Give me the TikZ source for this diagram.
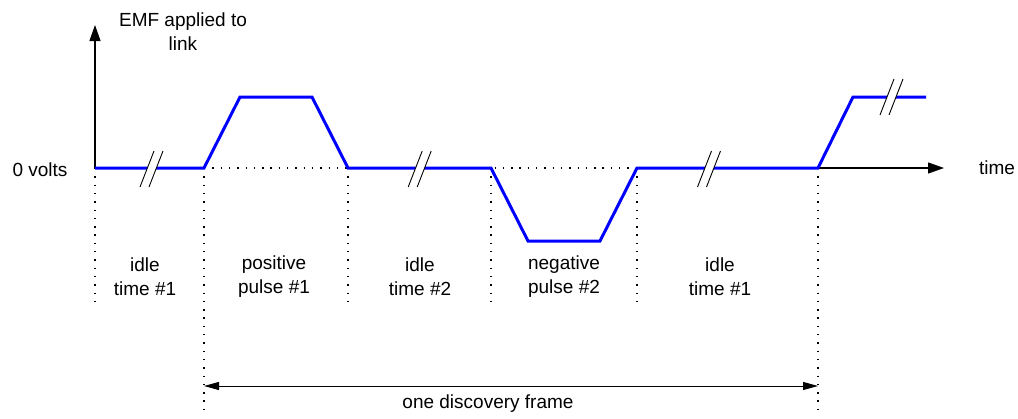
\documentclass[tikz,border=0pt]{standalone}
\usepackage{fontspec}
\setmainfont{Liberation Sans}
\usetikzlibrary{arrows.meta}
\tikzset{
  wave/.style={draw=blue, line width=3pt, line join=miter},
  axis/.style={draw=black, line width=1.2pt, -{Triangle[length=16pt,width=11pt]}},
  dotline/.style={draw=black, line width=1.4pt, dash pattern=on 1.4pt off 6.9pt},
  lbl/.style={font=\fontsize{19}{24}\selectfont, align=center, inner sep=0pt},
  span/.style={draw=black, line width=1pt, {Triangle[length=15pt,width=8pt]}-{Triangle[length=15pt,width=8pt]}},
  brk/.pic={
    \fill[white] (-11.5,18)--(2.5,-18)--(11.5,-18)--(-2.5,18)--cycle;
    \draw[black, line width=0.9pt] (-11.5,18)--(2.5,-18) (-2.5,18)--(11.5,-18);
  }
}
\begin{document}
\begin{tikzpicture}[x=1pt,y=-1pt]
\useasboundingbox (0,0) rectangle (1018,418);
% key coordinates
\coordinate (o) at (95,168);
\coordinate (ytop) at (95,25);
\coordinate (p1) at (204,168);
\coordinate (p2) at (240,97);
\coordinate (p3) at (312,97);
\coordinate (p4) at (348,168);
\coordinate (n1) at (491,168);
\coordinate (n2) at (528,241);
\coordinate (n3) at (600,241);
\coordinate (n4) at (637,168);
\coordinate (q1) at (818,168);
\coordinate (q2) at (853,97);
\coordinate (q3) at (926,97);
\coordinate (tend) at (944,168);
% dotted lines
\draw[dotline] (p1) -- (n4);
\draw[dotline] (o) -- (95,308);
\draw[dotline] (p1) -- (204,414);
\draw[dotline] (p4) -- (348,308);
\draw[dotline] (n1) -- (491,308);
\draw[dotline] (n4) -- (637,308);
\draw[dotline] (q1) -- (818,414);
% axes
\draw[axis] (o) -- (ytop);
\draw[axis] (q1) -- (tend);
% waveform
\draw[wave] (o) -- (p1) -- (p2) -- (p3) -- (p4) -- (n1) -- (n2) -- (n3) -- (n4) -- (q1) -- (q2) -- (q3);
% breaks
\pic at (151.5,169) {brk};
\pic at (419.7,169) {brk};
\pic at (709,169) {brk};
\pic at (891.5,97) {brk};
% labels
\node[lbl] (emf) at (183,32) {EMF applied to\\link};
\node[lbl] (zero) at (40,170) {0 volts};
\node[lbl] (time) at (997,168) {time};
\node[lbl] (l1) at (145,277) {idle\\time \#1};
\node[lbl] (l2) at (274,277) {positive\\pulse \#1};
\node[lbl] (l3) at (420,277) {idle\\time \#2};
\node[lbl] (l4) at (564,277) {negative\\pulse \#2};
\node[lbl] (l5) at (720,277) {idle\\time \#1};
% frame
\coordinate (fa) at (204,386);
\coordinate (fb) at (818,386);
\draw[span] (fa) -- (fb);
\node[lbl] (frame) at (488,404) {one discovery frame};
\end{tikzpicture}
\end{document}
